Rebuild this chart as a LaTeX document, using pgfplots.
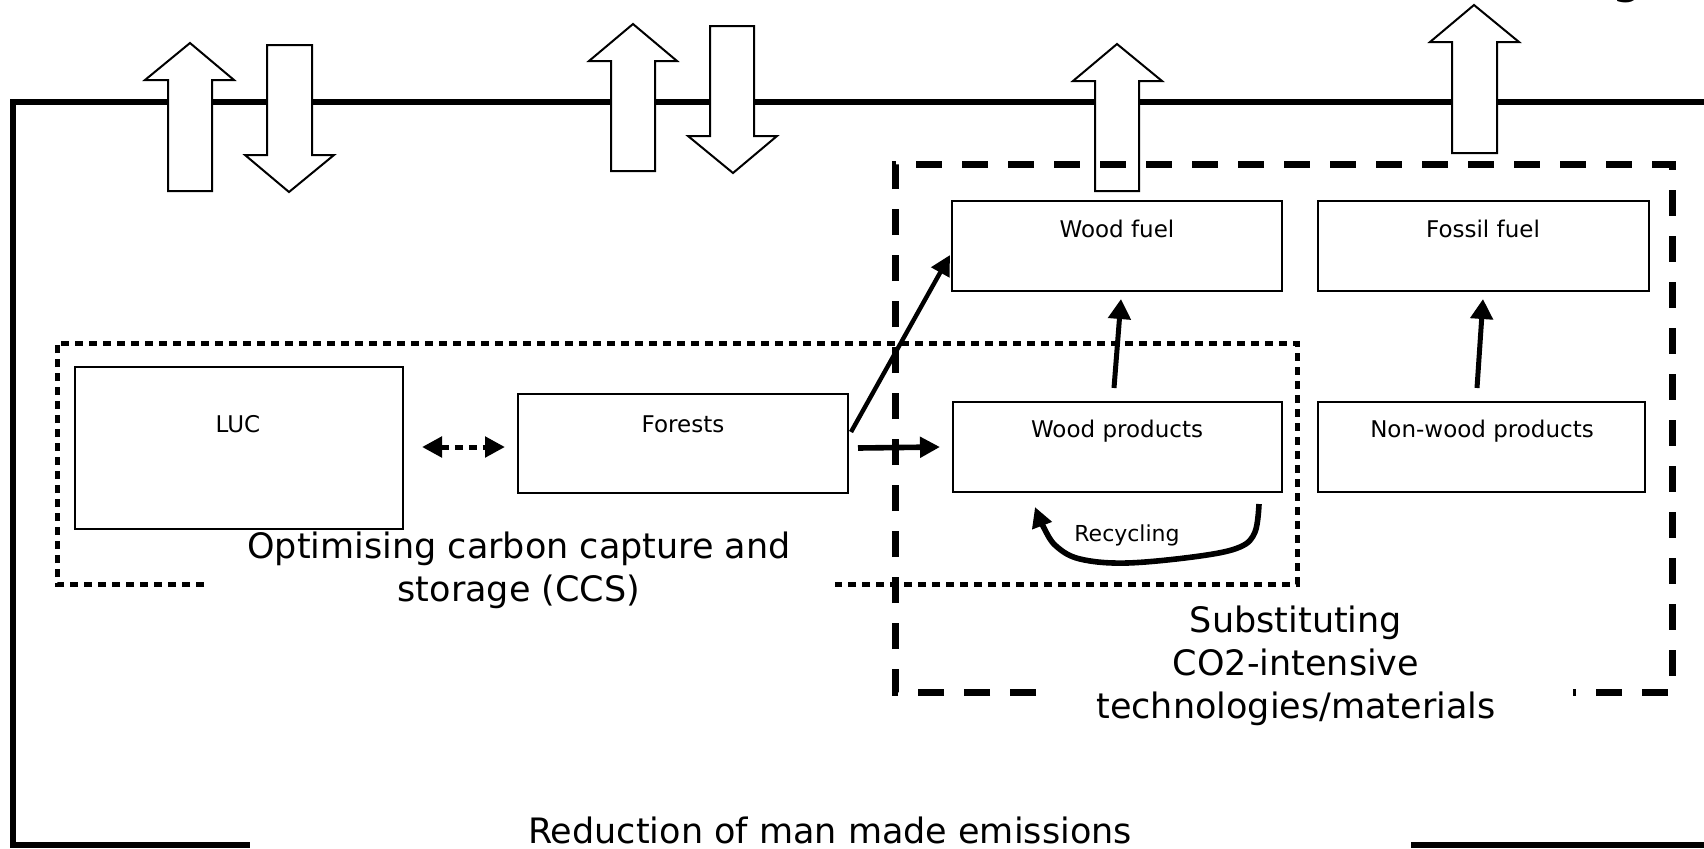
\documentclass[border=0pt]{standalone}
\usepackage{pgfplots}
\pgfplotsset{compat=1.18}
\usepackage{fontspec}
\setmainfont{DejaVu Sans}
\usetikzlibrary{arrows.meta}
\begin{document}
\begin{tikzpicture}
\begin{axis}[x=0.5pt,y=0.5pt,y dir=reverse,xmin=0,xmax=1704,ymin=0,ymax=848,
  hide axis,clip=false,scale only axis]
% outer frame
\addplot[black,line width=3pt,line join=miter] coordinates {(1704,102) (13,102) (13,848)};
\addplot[black,line width=3pt] coordinates {(13,845) (250,845)};
\addplot[black,line width=3pt] coordinates {(1411,845) (1704,845)};
% block arrows
\addplot[draw=black,fill=white,line width=1pt] coordinates {(168,191)(168,80)(145,80)(190,43)(234,80)(212,80)(212,191)} -- cycle;
\addplot[draw=black,fill=white,line width=1pt] coordinates {(267,45)(267,155)(245,155)(289,192)(334,155)(312,155)(312,45)} -- cycle;
\addplot[draw=black,fill=white,line width=1pt] coordinates {(611,171)(611,61)(589,61)(633,24)(677,61)(655,61)(655,171)} -- cycle;
\addplot[draw=black,fill=white,line width=1pt] coordinates {(710,26)(710,136)(688,136)(733,173)(777,136)(754,136)(754,26)} -- cycle;
\addplot[draw=black,fill=white,line width=1pt] coordinates {(1095,191)(1095,81)(1073,81)(1117,44)(1162,81)(1139,81)(1139,191)} -- cycle;
\addplot[draw=black,fill=white,line width=1pt] coordinates {(1452,153)(1452,42)(1430,42)(1474,5)(1519,42)(1497,42)(1497,153)} -- cycle;
% dotted CCS box
\addplot[black,line width=2.5pt,dash pattern=on 4pt off 3pt] coordinates {(204,584)(57,584)(57,343)(1297,343)(1297,584)(835,584)};
% dashed substitution box
\addplot[black,line width=3.5pt,dash pattern=on 13pt off 10pt] coordinates {(1036,692)(895,692)(895,164)(1672,164)(1672,692)(1573,692)};
% boxes
\addplot[draw=black,fill=none,line width=1pt] coordinates {(75,367)(403,367)(403,529)(75,529)} -- cycle;
\addplot[draw=black,fill=none,line width=1pt] coordinates {(518,394)(848,394)(848,493)(518,493)} -- cycle;
\addplot[draw=black,fill=none,line width=1pt] coordinates {(952,201)(1282,201)(1282,291)(952,291)} -- cycle;
\addplot[draw=black,fill=none,line width=1pt] coordinates {(1318,201)(1649,201)(1649,291)(1318,291)} -- cycle;
\addplot[draw=black,fill=none,line width=1pt] coordinates {(953,402)(1282,402)(1282,492)(953,492)} -- cycle;
\addplot[draw=black,fill=none,line width=1pt] coordinates {(1318,402)(1645,402)(1645,492)(1318,492)} -- cycle;
% arrows
\addplot[black,line width=2.2pt,-{Triangle[length=10pt,width=10pt]}] coordinates {(851,432)(950,255)};
\addplot[black,line width=2.8pt,-{Triangle[length=10pt,width=10pt]}] coordinates {(858,448)(940,447)};
\addplot[black,line width=2.5pt,-{Triangle[length=10pt,width=11pt]}] coordinates {(1114,388)(1121,299)};
\addplot[black,line width=2.5pt,-{Triangle[length=10pt,width=11pt]}] coordinates {(1477,388)(1483,299)};
\addplot[black,line width=2.5pt,dash pattern=on 4pt off 3pt,{Triangle[length=10pt,width=10pt]}-{Triangle[length=10pt,width=10pt]}] coordinates {(422,447)(505,447)};
\addplot[black,line width=2.8pt,smooth,tension=0.6,-{Triangle[length=10pt,width=10pt]}] coordinates {(1259,504)(1255,532)(1240,547)(1200,556)(1127,563)(1080,559)(1056,546)(1044,528)(1035,507)};
% labels
\node[anchor=base,font=\fontsize{11.5}{13}\selectfont] at (axis cs:238,432) {LUC};
\node[anchor=base,font=\fontsize{11.5}{13}\selectfont] at (axis cs:683,432) {Forests};
\node[anchor=base,font=\fontsize{11.5}{13}\selectfont] at (axis cs:1117,237) {Wood fuel};
\node[anchor=base,font=\fontsize{11.5}{13}\selectfont] at (axis cs:1483,237) {Fossil fuel};
\node[anchor=base,font=\fontsize{11.5}{13}\selectfont] at (axis cs:1117,437) {Wood products};
\node[anchor=base,font=\fontsize{11.5}{13}\selectfont] at (axis cs:1482,437) {Non-wood products};
\node[anchor=base,font=\fontsize{11}{13}\selectfont] at (axis cs:1127,541) {Recycling};
\node[align=center,font=\fontsize{17.5}{21.5}\selectfont] at (axis cs:519,570) {Optimising carbon capture and\\storage (CCS)};
\node[align=center,font=\fontsize{17.5}{21.5}\selectfont] at (axis cs:1296,666) {Substituting\\CO2-intensive\\technologies/materials};
\node[anchor=base,font=\fontsize{17.5}{21.5}\selectfont] at (axis cs:830,843) {Reduction of man made emissions};
\node[anchor=base,font=\fontsize{25}{30}\selectfont] at (axis cs:1627,-8) {g};
\end{axis}
\pgfresetboundingbox
\path (current axis.south west) rectangle (current axis.north east);
\end{tikzpicture}
\end{document}
